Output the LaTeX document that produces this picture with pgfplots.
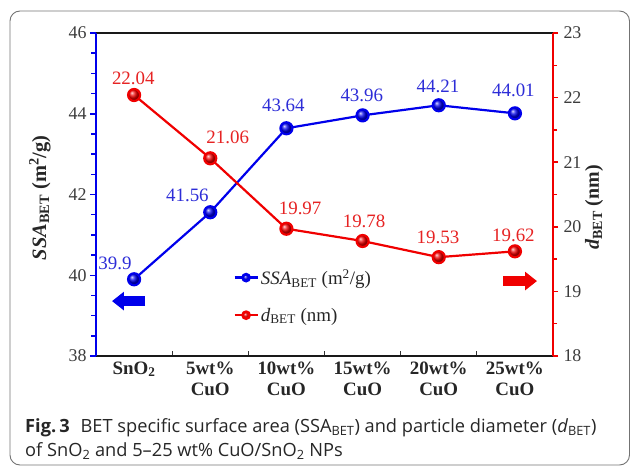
\documentclass[border=0pt]{standalone}
\usepackage{pgfplots}
\pgfplotsset{compat=1.18}
\usepackage{fontspec}
\setmainfont{Liberation Serif}
\newfontfamily\capfont[Ligatures=TeX]{Open Sans}
\usetikzlibrary{arrows.meta}
\definecolor{myblue}{RGB}{0,0,235}
\definecolor{myred}{RGB}{240,0,0}
\definecolor{lblblue}{RGB}{45,45,215}
\definecolor{lblred}{RGB}{230,35,35}
\definecolor{tickgray}{RGB}{60,60,60}
\begin{document}
\begin{tikzpicture}
\useasboundingbox (0,0) rectangle (630bp,467bp);
\draw[black!55, line width=0.9bp, rounded corners=10bp] (10bp,2bp) rectangle (629.5bp,456bp);
% left axis (SSA)
\begin{axis}[
  at={(96bp,111bp)}, anchor=south west,
  width=457bp, height=323bp, scale only axis,
  xmin=-0.5, xmax=5.5, ymin=38, ymax=46,
  axis x line*=box, axis y line*=left,
  x axis line style={black!90, line width=1.4bp},
  y axis line style={draw=myblue, line width=1.8bp},
  tick align=inside,
  xtick={0,1,2,3,4,5},
  xticklabels={{SnO\textsubscript{2}},{5wt\%\\CuO},{10wt\%\\CuO},{15wt\%\\CuO},{20wt\%\\CuO},{25wt\%\\CuO}},
  xtick pos=bottom,
  major x tick style={draw=none},
  minor xtick={0.5,1.5,2.5,3.5,4.5},
  minor x tick style={draw=black!80, line width=1.3bp},
  xticklabel style={font=\bfseries\fontsize{19}{21}\selectfont, align=center, text=black!85, yshift=-2bp},
  ytick={38,40,42,44,46},
  minor y tick num=3,
  major tick length=6bp, minor tick length=4.5bp,
  major y tick style={draw=myblue, line width=1.5bp, xshift=-6bp},
  minor y tick style={draw=myblue, line width=1.5bp, xshift=-4.5bp},
  ytick pos=left,
  yticklabel style={font=\fontsize{18}{20}\selectfont, text=tickgray, xshift=-6bp},
  /pgf/number format/assume math mode=true,
  ylabel={\bfseries\textit{SSA}\textsubscript{BET} (m\textsuperscript{2}/g)},
  every axis y label/.style={at={(axis description cs:-0.123,0.49)}, anchor=center, rotate=90, font=\fontsize{20.5}{22}\selectfont, text=black!85},
  clip=false,
]
\addplot[myblue, line width=2.2bp, mark=ball, mark size=6bp, mark options={ball color=myblue}] coordinates {
(0,39.9) (1,41.56) (2,43.64) (3,43.96) (4,44.21) (5,44.01)};
\begin{scope}[every node/.style={font=\fontsize{19}{21}\selectfont, text=lblblue}]
\node at (axis cs:-0.25,40.30) {39.9};
\node at (axis cs:0.70,41.99) {41.56};
\node at (axis cs:1.96,44.22) {43.64};
\node at (axis cs:2.99,44.46) {43.96};
\node at (axis cs:3.99,44.69) {44.21};
\node at (axis cs:4.98,44.59) {44.01};
\end{scope}
\draw[myblue, line width=10bp, -{Triangle[length=12bp, width=18bp]}] (axis cs:0.144,39.36) -- (axis cs:-0.29,39.36);
\end{axis}
% right axis (d)
\begin{axis}[
  at={(96bp,111bp)}, anchor=south west,
  width=457bp, height=323bp, scale only axis,
  xmin=-0.5, xmax=5.5, ymin=18, ymax=23,
  axis y line*=right, axis x line=none,
  y axis line style={draw=myred, line width=1.8bp},
  tick align=outside,
  ytick={18,19,20,21,22,23},
  minor y tick num=1,
  major tick length=5bp, minor tick length=4bp,
  major y tick style={draw=myred, line width=1.5bp},
  minor y tick style={draw=myred, line width=1.5bp},
  yticklabel style={font=\fontsize{18}{20}\selectfont, text=tickgray, xshift=2bp},
  /pgf/number format/assume math mode=true,
  ylabel={\bfseries\textit{d}\textsubscript{BET} (nm)},
  every axis y label/.style={at={(axis description cs:1.090,0.46)}, anchor=center, rotate=90, font=\fontsize{20}{22}\selectfont, text=black!85},
  clip=false,
  legend style={at={(0.30,0.275)}, anchor=north west, draw=none, fill=none, font=\fontsize{19}{21}\selectfont, row sep=18bp, inner sep=0pt, text=black!85},
  legend cell align=left,
  legend image code/.code={\draw[mark repeat=2, mark phase=2, mark size=3.5bp, line width=2.6bp] plot coordinates {(0bp,0bp) (11.5bp,0bp) (23bp,0bp)};},
]
\addlegendimage{myblue, line width=2.2bp, mark=ball, mark options={ball color=myblue}}
\addlegendentry{\textit{SSA}\textsubscript{BET} (m\textsuperscript{2}/g)}
\addplot[myred, line width=2.2bp, mark=ball, mark size=6bp, mark options={ball color=myred}] coordinates {
(0,22.04) (1,21.06) (2,19.97) (3,19.78) (4,19.53) (5,19.62)};
\addlegendentry{\textit{d}\textsubscript{BET} (nm)}
\begin{scope}[every node/.style={font=\fontsize{19}{21}\selectfont, text=lblred}]
\node at (axis cs:-0.01,22.30) {22.04};
\node at (axis cs:1.23,21.39) {21.06};
\node at (axis cs:2.18,20.29) {19.97};
\node at (axis cs:3.02,20.09) {19.78};
\node at (axis cs:3.99,19.83) {19.53};
\node at (axis cs:4.98,19.87) {19.62};
\end{scope}
\draw[myred, line width=10bp, -{Triangle[length=12bp, width=18bp]}] (axis cs:4.845,19.16) -- (axis cs:5.29,19.16);
\end{axis}
% caption
\node[anchor=base west, inner sep=0pt, font=\capfont\fontsize{18.3}{20}\selectfont, text=black!85] at (25bp,35bp)
  {\textbf{Fig.\,3}\hspace{0.6em}BET specific surface area (SSA\textsubscript{BET}) and particle diameter (\textit{d}\textsubscript{BET})};
\node[anchor=base west, inner sep=0pt, font=\capfont\fontsize{18.3}{20}\selectfont, text=black!85] at (25bp,11bp)
  {of SnO\textsubscript{2} and 5--25 wt\% CuO/SnO\textsubscript{2} NPs};
\end{tikzpicture}
\end{document}
